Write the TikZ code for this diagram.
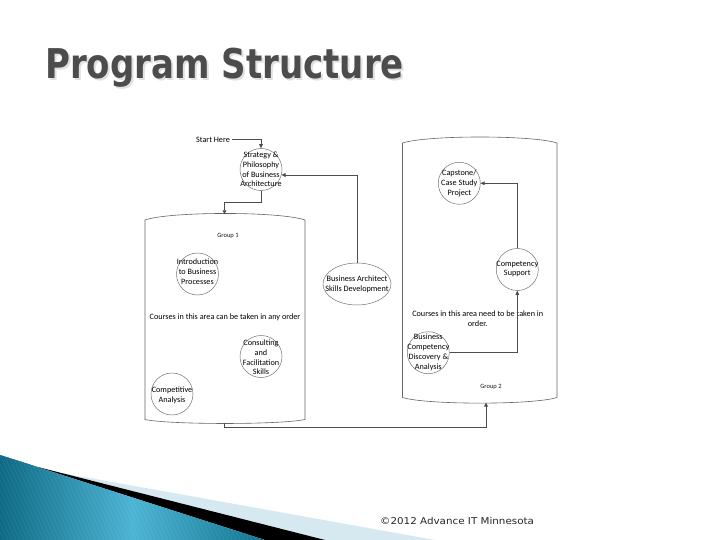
\documentclass[tikz,border=0pt]{standalone}
\usepackage{fontspec}
\setmainfont{Carlito}
\newfontfamily\titlefont{DejaVu Sans}
\newfontfamily\footfont{DejaVu Sans}
\usetikzlibrary{shapes.geometric,arrows.meta}
\definecolor{tealdark}{HTML}{0E6A84}
\definecolor{teallight}{HTML}{4CB4D4}
\definecolor{tealright}{HTML}{12758F}
\definecolor{paleblue}{HTML}{D7E9F0}
\begin{document}
\begin{tikzpicture}[x=1pt,y=-1pt,
  course/.style={circle,draw=black!55,line width=0.5pt,minimum size=42pt,inner sep=0pt},
  oval/.style={ellipse,draw=black!55,line width=0.5pt,minimum width=68pt,minimum height=42pt,inner sep=0pt},
  ctext/.style={font=\fontsize{8.2}{9.8}\selectfont,align=center,text=black,inner sep=0pt},
  gtext/.style={font=\fontsize{6.5}{8}\selectfont,text=black!90,inner sep=0pt},
  conn/.style={draw=black!70,line width=0.7pt},
  arr/.style={conn,-{Triangle[length=4pt,width=3.6pt]}},
  container/.style={draw=black!60,line width=0.6pt},
  ]
\useasboundingbox (0,0) rectangle (720,540);
\fill[white] (0,0) rectangle (720,540);

% bottom-left decoration
\fill[paleblue] (62,473) -- (435,540) -- (320,540) -- cycle;
\fill[black] (30,465) -- (325,540) -- (265,540) -- (0,455) -- cycle;
\begin{scope}
  \clip (0,455) -- (265,540) -- (0,540) -- cycle;
  \shade[left color=tealdark,right color=tealright,middle color=teallight] (0,450) rectangle (265,540);
  \foreach \i in {-60,-56,...,300} {
    \draw[white,opacity=0.10,line width=0.4pt] (\i,455) -- (\i+40,540);
  }
\end{scope}

% title
\node[anchor=base west,inner sep=0pt,font=\titlefont\bfseries\fontsize{41}{41}\selectfont,text=black!12,xscale=0.83] (titleshadow) at (47,81) {Program Structure};
\node[anchor=base west,inner sep=0pt,font=\titlefont\bfseries\fontsize{41}{41}\selectfont,text=black!70,xscale=0.83] (title) at (45,79) {Program Structure};

% containers
\draw[container] (145,220) .. controls (170,211.3) and (280,211.3) .. (305,220)
  -- (305,419.5) .. controls (280,424.8) and (170,424.8) .. (145,419.5) -- cycle;
\draw[container] (402.5,143) .. controls (427,135) and (533,135) .. (557,143)
  -- (557,397.5) .. controls (533,405) and (427,405) .. (402.5,397.5) -- cycle;
\coordinate (g1top) at (224.5,214.3);
\coordinate (g1bot) at (224.5,423);
\coordinate (g2bot) at (486,402.5);

\node[gtext] (g1label) at (228,236) {Group 1};
\node[gtext] (g2label) at (491,387) {Group 2};

% start
\node[ctext] (start) at (213,139.5) {Start Here};

% courses
\node[course] (s1) at (261,169.5) {};
\node[ctext] (s1t) at (261,169.5) {Strategy \&\\Philosophy\\of Business\\Architecture};

\node[course] (intro) at (197.5,274) {};
\node[ctext] (introt) at (197.5,271.7) {Introduction\\to Business\\Processes};

\node[course] (cons) at (261,356.5) {};
\node[ctext] (const) at (261,357.4) {Consulting\\and\\Facilitation\\Skills};

\node[course] (comp) at (172,394) {};
\node[ctext] (compt) at (172,395) {Competitive\\Analysis};

\node[oval] (bas) at (357,284) {};
\node[ctext] (bast) at (357,284) {Business Architect\\Skills Development};

\node[course] (cap) at (459.3,183.3) {};
\node[ctext] (capt) at (459.3,183.3) {Capstone/\\Case Study\\Project};

\node[course] (cs) at (517.3,269.5) {};
\node[ctext] (cst) at (517.3,269) {Competency\\Support};

\node[course] (bcd) at (428.3,352.7) {};
\node[ctext] (bcdt) at (428.3,352.2) {Business\\Competency\\Discovery \&\\Analysis};

\node[ctext] (any) at (225,317.5) {Courses in this area can be taken in any order};
\node[ctext] (order) at (477.7,318.8) {Courses in this area need to be taken in\\order.};

% connectors
\draw[arr] (start.east) ++(2,0) -| (s1.north);
\draw[arr] (s1.south) -- ++(0,11.5) -| (g1top);
\draw[arr] (bas.north) |- (s1.-15);
\draw[arr] (g1bot) -- ++(0,4.3) -| (g2bot);
\draw[arr] (bcd.east) -| (cs.south);
\draw[arr] (cs.north) |- (cap.east);

% footer
\node[anchor=base west,inner sep=0pt,font=\footfont\fontsize{9.4}{11}\selectfont,text=black!85,xscale=1.1] (foot) at (380,524.5) {©2012 Advance IT Minnesota};
\end{tikzpicture}
\end{document}
